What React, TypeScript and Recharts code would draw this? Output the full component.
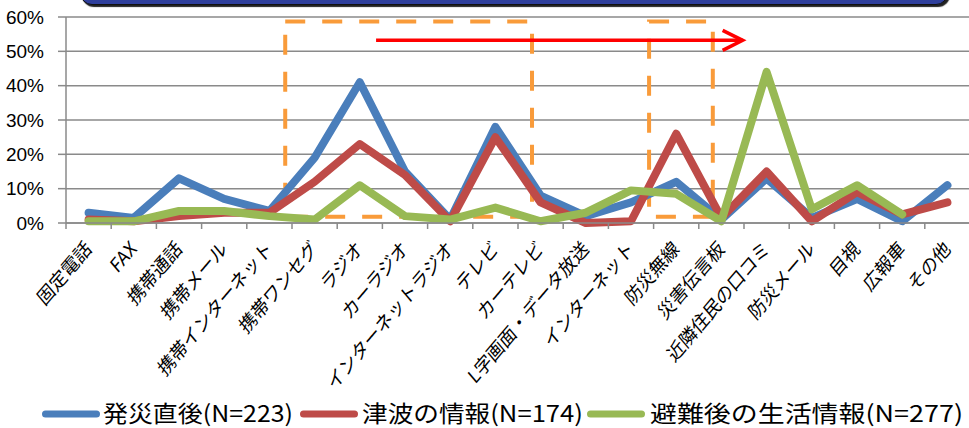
import React from 'react';
import { LineChart, Line, XAxis, YAxis, CartesianGrid, Legend, Customized } from 'recharts';

// media categories along the x axis
const categories = [
  '固定電話', 'FAX', '携帯通話', '携帯メール', '携帯インターネット', '携帯ワンセグ',
  'ラジオ', 'カーラジオ', 'インターネットラジオ', 'テレビ', 'カーテレビ',
  'L字画面・データ放送', 'インターネット', '防災無線', '災害伝言板',
  '近隣住民の口コミ', '防災メール', '目視', '広報車', 'その他',
];

// share of respondents (%)
const justAfter = [3, 1.5, 13, 7, 3.5, 19, 41, 15, 1, 28, 8, 2, 6, 12, 1, 13, 1.5, 7, 0.5, 11];
const tsunamiInfo = [1, 0.5, 2, 3, 3, 12, 23, 14, 0.5, 25, 6, 0, 0.5, 26, 1.5, 15, 0.5, 9, 2.5, 6];
const afterEvac = [0.5, 0.5, 3.5, 3.5, 2, 1, 11, 2, 1, 4.5, 0.5, 3, 9.5, 8.5, 0.5, 44, 4, 11, 2.5, null];

const yTicks = [0, 10, 20, 30, 40, 50, 60];

const series = [
  { key: 'a', name: '発災直後(N=223)', color: '#4A7EBB', values: justAfter },
  { key: 'b', name: '津波の情報(N=174)', color: '#BE4B48', values: tsunamiInfo },
  { key: 'c', name: '避難後の生活情報(N=277)', color: '#98B954', values: afterEvac },
];

const data = categories.map((cat, i) => {
  const row: Record<string, any> = { cat };
  series.forEach((s) => { row[s.key] = s.values[i]; });
  return row;
});

// layout
const CHART_W = 980;
const CHART_H = 428;
const PLOT_LEFT = 66;
const PLOT_TOP = 17;
const PLOT_RIGHT_MARGIN = 10;
const LEGEND_H = 33;
const X_AXIS_H = 172;
const PLOT_W = CHART_W - PLOT_LEFT - PLOT_RIGHT_MARGIN;
const PLOT_H = CHART_H - PLOT_TOP - LEGEND_H - X_AXIS_H;
const BAND = PLOT_W / categories.length;
const Y_MAX = 60;

const GRID = '#8A8A8A';
const JP_FONT = '"Noto Sans CJK JP", "Noto Sans", sans-serif';

const xAt = (u: number) => PLOT_LEFT + u * BAND;
const yAt = (v: number) => PLOT_TOP + PLOT_H * (1 - v / Y_MAX);

// tick mark sits between categories, label rotated under the category centre
const CategoryTick = (props: any) => {
  const { x, y, payload } = props;
  const tx = x + 4;
  const ty = y + 27;
  return (
    <g>
      <line x1={x - BAND / 2} x2={x - BAND / 2} y1={y} y2={y + 6} stroke={GRID} strokeWidth={1.5} />
      <text
        x={0}
        y={0}
        transform={`translate(${tx} ${ty}) scale(0.85 1) rotate(-45)`}
        textAnchor="end"
        fontSize={20}
        fontFamily={JP_FONT}
        fill="#000"
      >
        {payload.value}
      </text>
    </g>
  );
};

// dashed highlight boxes and the red arrow
const Annotations = () => {
  const boxes = [
    { u0: 4.85, u1: 10.31 },
    { u0: 12.9, u1: 14.31 },
  ];
  const top = yAt(58.7);
  const bottom = yAt(1.8);
  const ay = yAt(53.2);
  const ax0 = xAt(6.86);
  const ax1 = xAt(14.97);
  return (
    <g>
      {boxes.map((b, i) => (
        <rect
          key={i}
          x={xAt(b.u0)}
          y={top}
          width={xAt(b.u1) - xAt(b.u0)}
          height={bottom - top}
          fill="none"
          stroke="#F99B3A"
          strokeWidth={4}
          strokeDasharray="20 17"
        />
      ))}
      <line x1={ax0} y1={ay} x2={ax1} y2={ay} stroke="#FF0000" strokeWidth={3.5} />
      <polyline
        points={`${ax1 - 20},${ay - 10} ${ax1},${ay} ${ax1 - 20},${ay + 10}`}
        fill="none"
        stroke="#FF0000"
        strokeWidth={3.5}
      />
    </g>
  );
};

// legend entries: sample line start, text start, text width
const legendSlots = [
  { lineX: 42, textX: 103, textW: 190 },
  { lineX: 300, textX: 362, textW: 221 },
  { lineX: 587, textX: 650, textW: 313 },
];

const renderLegend = () => (
  <svg width={969} height={LEGEND_H} style={{ display: 'block' }}>
    {series.map((s, i) => {
      const slot = legendSlots[i];
      return (
        <g key={s.key}>
          <line
            x1={slot.lineX + 3.5}
            x2={slot.lineX + 54.5}
            y1={19}
            y2={19}
            stroke={s.color}
            strokeWidth={7}
            strokeLinecap="round"
          />
          <text
            x={slot.textX}
            y={26.5}
            fontSize={23}
            fontFamily={JP_FONT}
            fill="#000"
            textLength={slot.textW}
            lengthAdjust="spacingAndGlyphs"
          >
            {s.name}
          </text>
        </g>
      );
    })}
  </svg>
);

export default function App() {
  return (
    <div style={{ position: 'fixed', left: 0, top: 0, width: 969, height: 428, overflow: 'hidden', background: '#fff' }}>
      {/* title banner, only its lower edge is visible */}
      <div
        style={{
          position: 'absolute', left: 80, top: -40, width: 866, height: 43,
          background: '#2F3F9C', border: '1.5px solid #111', borderRadius: 12,
          boxShadow: '2px 2px 1px #222',
        }}
      />
      <LineChart
        width={CHART_W}
        height={CHART_H}
        data={data}
        margin={{ top: PLOT_TOP, right: PLOT_RIGHT_MARGIN, left: 0, bottom: 0 }}
      >
        <CartesianGrid vertical={false} stroke={GRID} strokeWidth={1.5} />
        <XAxis
          dataKey="cat"
          interval={0}
          height={X_AXIS_H}
          padding={{ left: BAND / 2, right: BAND / 2 }}
          tickLine={false}
          tickSize={0}
          tickMargin={0}
          axisLine={{ stroke: GRID, strokeWidth: 1.5 }}
          tick={<CategoryTick />}
        />
        <YAxis
          domain={[0, Y_MAX]}
          ticks={yTicks}
          interval={0}
          width={PLOT_LEFT}
          tickSize={8}
          tickMargin={14}
          tickFormatter={(v: number) => `${v}%`}
          axisLine={{ stroke: GRID, strokeWidth: 1.5 }}
          tickLine={{ stroke: GRID, strokeWidth: 1.5 }}
          tick={{ fill: '#000', fontSize: 19, fontFamily: '"Liberation Sans", Arial, sans-serif' }}
        />
        {series.map((s) => (
          <Line
            key={s.key}
            type="linear"
            dataKey={s.key}
            name={s.name}
            stroke={s.color}
            strokeWidth={8}
            strokeLinecap="round"
            strokeLinejoin="round"
            dot={false}
            activeDot={false}
            connectNulls={false}
            isAnimationActive={false}
          />
        ))}
        <Customized component={Annotations} />
        <Legend
          verticalAlign="bottom"
          content={renderLegend}
          wrapperStyle={{ left: 0, width: 969, height: LEGEND_H }}
        />
      </LineChart>
    </div>
  );
}
